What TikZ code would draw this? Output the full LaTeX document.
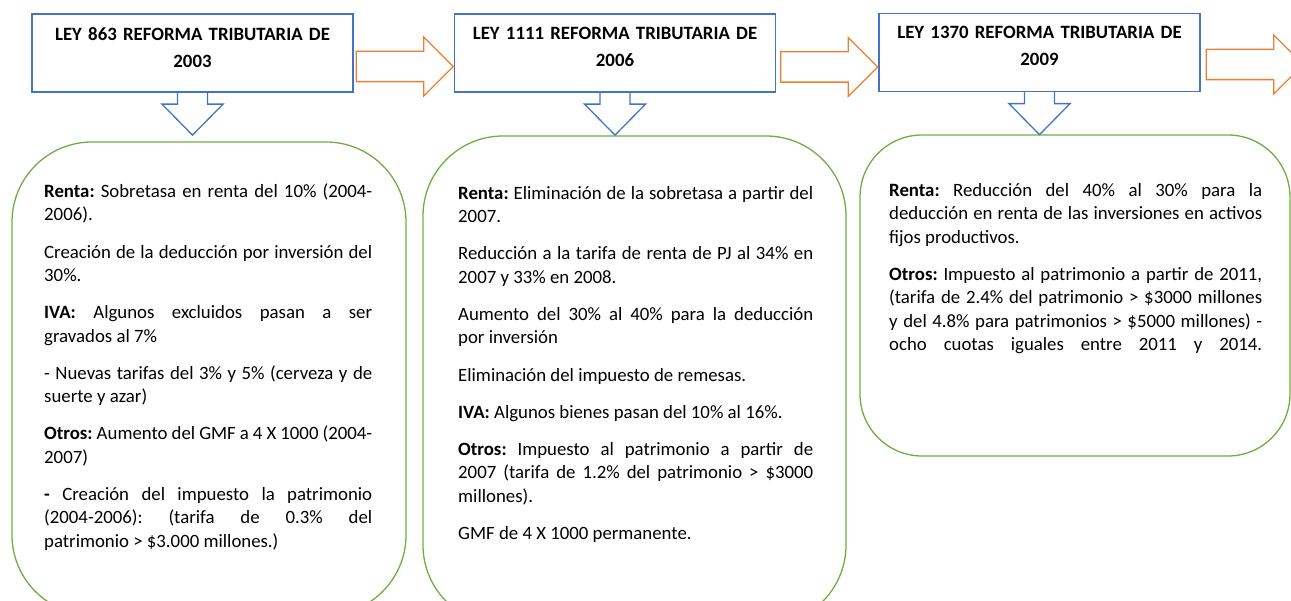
\documentclass[tikz,border=0pt]{standalone}
\usepackage{fontspec}
\setmainfont{Carlito}
\usepackage{tikz}
\usetikzlibrary{shapes.arrows,calc,positioning}
\definecolor{azul}{HTML}{4472C4}
\definecolor{naranja}{HTML}{ED7D31}
\definecolor{verde}{HTML}{70AD47}
\setlength{\parindent}{0pt}
\frenchspacing
\tolerance=9999
\hyphenpenalty=10000

\begin{document}
\begin{tikzpicture}[x=1pt,y=-1pt,
  ley/.style={draw=azul,line width=1.3pt,minimum width=321pt,minimum height=78pt,inner sep=0},
  titulo/.style={inner sep=0,text width=310pt,align=center,font=\fontsize{18.8}{27}\selectfont\bfseries},
  flecha/.style={draw=naranja,line width=1.3pt,single arrow,single arrow head extend=14.5pt,inner sep=14.5pt,minimum height=97pt},
  bajada/.style={draw=azul,line width=1.3pt,line join=miter},
  caja/.style={draw=verde,line width=1.3pt,inner sep=0},
  texto/.style={inner sep=0,anchor=north west,align=justify,font=\fontsize{18.8}{23.5}\selectfont,
    execute at begin node={\setlength{\parskip}{13.6pt}\frenchspacing\tolerance=9999}}]
\useasboundingbox (0,0) rectangle (1291,601);
\clip (0,0) rectangle (1291,601);

% leyes
\node[ley] (ley1) at (192.5,53) {};
\node[ley] (ley2) at (615,53) {};
\node[ley] (ley3) at (1039.5,52.5) {};

\node[titulo,anchor=north] (tit1) at ($(ley1.north)+(0,13.5)$) {LEY 863 REFORMA TRIBUTARIA DE\\2003};
\node[titulo,anchor=north] (tit2) at ($(ley2.north)+(0,13.5)$) {LEY 1111 REFORMA TRIBUTARIA DE\\2006};
\node[titulo,anchor=north] (tit3) at ($(ley3.north)+(0,13.5)$) {LEY 1370 REFORMA TRIBUTARIA DE\\2009};

% flechas entre leyes
\node[flecha,anchor=tail] (f12) at ($(ley1.east)+(2,13.5)$) {};
\node[flecha,anchor=tail] (f23) at ($(ley2.east)+(4,14)$) {};
\node[flecha,anchor=tail] (f34) at ($(ley3.east)+(5,12)$) {};

% flechas hacia abajo
\foreach \n in {1,2,3}
  \draw[bajada] ($(ley\n.south)+(-15,0)$) -- ++(0,11.5) -- ++(-15.5,0) -- ++(30.5,31)
    -- ++(30.5,-31) -- ++(-15.5,0) -- ++(0,-11.5);

% cajas
\node[caja,minimum width=394pt,minimum height=473pt,rounded corners=80pt] (caja1) at (209,378.5) {};
\node[caja,minimum width=423pt,minimum height=489pt,rounded corners=80pt] (caja2) at (634.5,380.5) {};
\node[caja,minimum width=430pt,minimum height=321pt,rounded corners=62pt] (caja3) at (1075,295.5) {};

\node[texto,text width=328pt] (txt1) at (44,183.5) {%
\textbf{Renta:} Sobretasa en renta del 10\% (2004-\linebreak 2006).

Creación de la deducción por inversión del\linebreak 30\%.

\textbf{IVA:} Algunos excluidos pasan a ser\linebreak gravados al 7\%

- Nuevas tarifas del 3\% y 5\% (cerveza y de\linebreak suerte y azar)

\textbf{Otros:} Aumento del GMF a 4 X 1000 (2004-\linebreak 2007)

\textbf{-} Creación del impuesto la patrimonio\linebreak (2004-2006): (tarifa de 0.3\% del\linebreak patrimonio > \$3.000 millones.)};

\node[texto,text width=355pt] (txt2) at (458,186) {%
\textbf{Renta:} Eliminación de la sobretasa a partir del\linebreak 2007.

Reducción a la tarifa de renta de PJ al 34\% en\linebreak 2007 y 33\% en 2008.

Aumento del 30\% al 40\% para la deducción\linebreak por inversión

Eliminación del impuesto de remesas.

\textbf{IVA:} Algunos bienes pasan del 10\% al 16\%.

\textbf{Otros:} Impuesto al patrimonio a partir de\linebreak 2007 (tarifa de 1.2\% del patrimonio > \$3000\linebreak millones).

GMF de 4 X 1000 permanente.};

\node[texto,text width=373pt] (txt3) at (889,183) {%
\textbf{Renta:} Reducción del 40\% al 30\% para la\linebreak deducción en renta de las inversiones en activos\linebreak fijos productivos.

{\parfillskip=0pt\relax
\textbf{Otros:} Impuesto al patrimonio a partir de 2011,\linebreak (tarifa de 2.4\% del patrimonio > \$3000 millones\linebreak y del 4.8\% para patrimonios > \$5000 millones) -\linebreak ocho cuotas iguales entre 2011 y 2014.\par}};

\end{tikzpicture}
\end{document}
